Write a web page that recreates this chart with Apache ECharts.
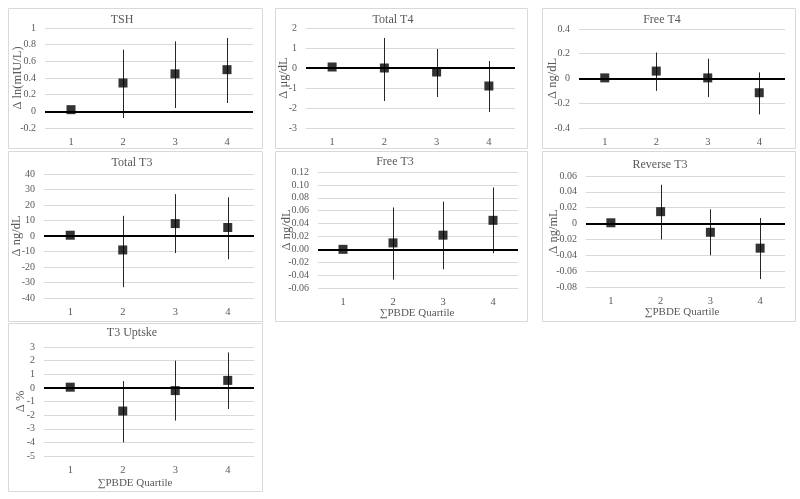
<!DOCTYPE html>
<html>
<head>
<meta charset="utf-8">
<script src="https://cdn.jsdelivr.net/npm/echarts@6/dist/echarts.min.js"></script>
<style>html,body{margin:0;padding:0;background:#fff}#c{width:800px;height:499px}</style>
</head>
<body>
<div id="c"></div>
<script>
var categories = ['1', '2', '3', '4'];
var panelTitles = ['TSH', 'Total T4', 'Free T4', 'Total T3', 'Free T3', 'Reverse T3', 'T3 Uptske'];
var yNames = ['Δ ln(mIU/L)', 'Δ μg/dL', 'Δ ng/dL', 'Δ ng/dL', 'Δ ng/dL', 'Δ ng/mL', 'Δ %'];
var xName = '∑PBDE Quartile';

var tshEst = [0.02, 0.34, 0.45, 0.50];
var tshLo  = [null, -0.08, 0.04, 0.10];
var tshHi  = [null, 0.74, 0.84, 0.88];

var tt4Est = [0.05, 0.0, -0.2, -0.9];
var tt4Lo  = [null, -1.65, -1.45, -2.2];
var tt4Hi  = [null, 1.5, 0.95, 0.35];

var ft4Est = [0.005, 0.06, 0.005, -0.115];
var ft4Lo  = [null, -0.10, -0.15, -0.29];
var ft4Hi  = [null, 0.21, 0.16, 0.05];

var tt3Est = [0.5, -9, 8, 5.5];
var tt3Lo  = [null, -33, -11, -15];
var tt3Hi  = [null, 13, 27, 25];

var ft3Est = [0.0, 0.01, 0.022, 0.045];
var ft3Lo  = [null, -0.047, -0.031, -0.006];
var ft3Hi  = [null, 0.065, 0.074, 0.096];

var rt3Est = [0.001, 0.015, -0.011, -0.031];
var rt3Lo  = [null, -0.020, -0.040, -0.070];
var rt3Hi  = [null, 0.049, 0.018, 0.007];

var t3uEst = [0.05, -1.7, -0.2, 0.55];
var t3uLo  = [null, -4.0, -2.4, -1.55];
var t3uHi  = [null, 0.5, 2.0, 2.6];

var yMin = [-0.2, -3, -0.4, -40, -0.06, -0.08, -5];
var yMax = [1, 2, 0.4, 40, 0.12, 0.06, 3];
var yInt = [0.2, 1, 0.2, 10, 0.02, 0.02, 1];
var yDec = [null, null, null, null, 2, null, null];

var ests = [tshEst, tt4Est, ft4Est, tt3Est, ft3Est, rt3Est, t3uEst];
var los = [tshLo, tt4Lo, ft4Lo, tt3Lo, ft3Lo, rt3Lo, t3uLo];
var his = [tshHi, tt4Hi, ft4Hi, tt3Hi, ft3Hi, rt3Hi, t3uHi];

// layout
var grids = [
  {left: 45, top: 28, width: 208, height: 100},
  {left: 306, top: 28, width: 209, height: 100},
  {left: 579, top: 29, width: 206, height: 99},
  {left: 44, top: 174, width: 210, height: 124},
  {left: 318, top: 172, width: 200, height: 116},
  {left: 586, top: 176, width: 199, height: 111},
  {left: 44, top: 347, width: 210, height: 109}
];
var boxes = [
  [8, 8, 254, 140], [275, 8, 252, 140], [542, 8, 253, 140],
  [8, 151, 254, 170], [275, 151, 252, 170], [542, 151, 253, 170],
  [8, 323, 254, 168]
];
var titlePos = [[122, 20], [393, 20], [662, 20], [132, 163], [395, 162], [660, 165], [132, 333]];
var nameGaps = [21, 16, 20, 21, 25, 26, 17];
var xNamePos = [null, null, null, null, [417, 313], [682, 312], [135, 483]];

var font = 'Liberation Serif';
var txt = '#595959';

var option = {
  animation: false,
  backgroundColor: '#fff',
  grid: grids.map(function (g) { return Object.assign({containLabel: false}, g); }),
  xAxis: grids.map(function (g, i) {
    return {
      type: 'category', gridIndex: i, data: categories, boundaryGap: true,
      axisLine: {show: false}, axisTick: {show: false}, splitLine: {show: false},
      axisLabel: {fontFamily: font, fontSize: 10.5, color: txt, margin: 9}
    };
  }),
  yAxis: grids.map(function (g, i) {
    return {
      type: 'value', gridIndex: i, min: yMin[i], max: yMax[i], interval: yInt[i],
      name: yNames[i], nameLocation: 'middle', nameGap: nameGaps[i], nameRotate: 90,
      nameMoveOverlap: false,
      nameTextStyle: {fontFamily: font, fontSize: 12.5, color: txt},
      axisLine: {show: false}, axisTick: {show: false},
      splitLine: {show: true, lineStyle: {color: '#d9d9d9', width: 1}},
      axisLabel: {
        fontFamily: font, fontSize: 10, color: txt, margin: 9,
        formatter: (function (d) {
          return function (v) {
            if (d != null) return v.toFixed(d);
            return String(parseFloat(v.toFixed(4)));
          };
        })(yDec[i])
      }
    };
  }),
  graphic: [],
  series: []
};

boxes.forEach(function (b) {
  option.graphic.push({
    type: 'rect', shape: {x: b[0] + 0.5, y: b[1] + 0.5, width: b[2], height: b[3]},
    style: {fill: 'none', stroke: '#d9d9d9', lineWidth: 1}, silent: true, z: 0
  });
});
panelTitles.forEach(function (t, i) {
  option.graphic.push({
    type: 'text', x: titlePos[i][0], y: titlePos[i][1], silent: true,
    style: {text: t, fontFamily: font, fontSize: 12, fill: txt, textAlign: 'center', textVerticalAlign: 'middle'}
  });
});
xNamePos.forEach(function (p) {
  if (!p) return;
  option.graphic.push({
    type: 'text', x: p[0], y: p[1], silent: true,
    style: {text: xName, fontFamily: font, fontSize: 11, fill: txt, textAlign: 'center', textVerticalAlign: 'middle'}
  });
});

ests.forEach(function (est, i) {
  var errData = [];
  for (var k = 0; k < est.length; k++) {
    if (los[i][k] != null) errData.push([k, los[i][k], his[i][k]]);
  }
  option.series.push({
    type: 'custom', xAxisIndex: i, yAxisIndex: i, z: 2,
    encode: {x: 0, y: [1, 2]},
    data: errData,
    renderItem: function (params, api) {
      var p1 = api.coord([api.value(0), api.value(1)]);
      var p2 = api.coord([api.value(0), api.value(2)]);
      var x = Math.round(p1[0]) + 0.5;
      return {type: 'line', shape: {x1: x, y1: p1[1], x2: x, y2: p2[1]},
              style: {stroke: '#262626', lineWidth: 1}};
    },
    markLine: {
      silent: true, symbol: 'none', animation: false,
      label: {show: false},
      lineStyle: {color: '#000', width: 2, type: 'solid'},
      data: [{yAxis: 0}]
    }
  });
  option.series.push({
    type: 'scatter', xAxisIndex: i, yAxisIndex: i, z: 5,
    symbol: 'rect', symbolSize: 9,
    itemStyle: {color: '#000'},
    data: est.map(function (v, k) { return [k, v]; })
  });
});

var chart = echarts.init(document.getElementById('c'), null, {renderer: 'canvas'});
chart.setOption(option);
</script>
</body>
</html>
